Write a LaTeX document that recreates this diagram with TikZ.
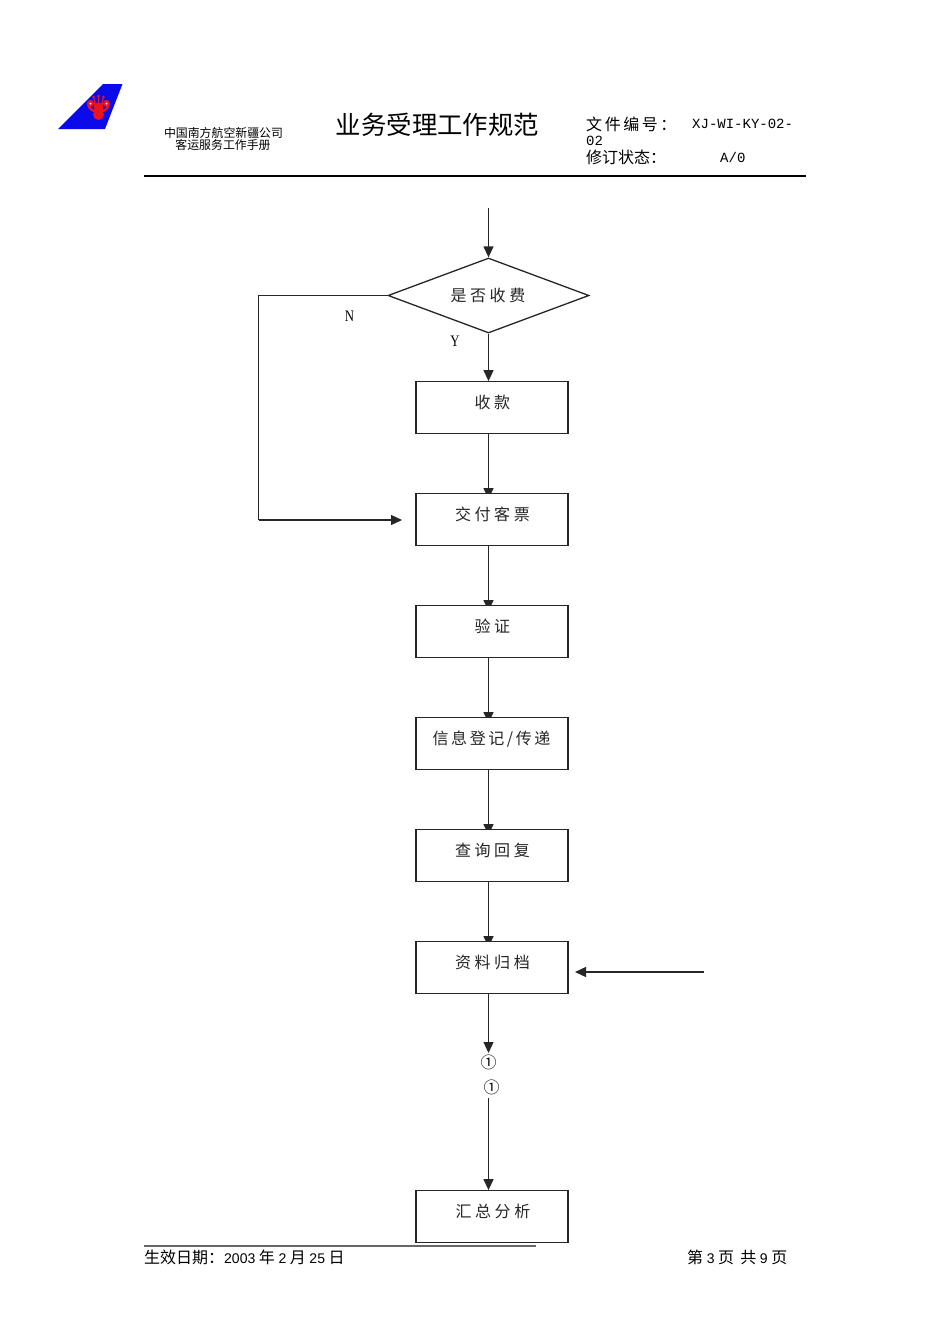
\documentclass[tikz,border=0pt]{standalone}
\usepackage{fontspec}
\usetikzlibrary{arrows.meta,shapes.geometric,backgrounds}
\setmainfont{Noto Sans CJK SC}
\newfontfamily\cjkw[LetterSpace=22]{Noto Sans CJK SC}
\newfontfamily\cjkh[LetterSpace=16]{Noto Sans CJK SC}
\newfontfamily\lat{Liberation Mono}
\newfontfamily\latn{Liberation Sans}
\newfontfamily\latserif{Liberation Serif}
\definecolor{tailblue}{RGB}{10,10,235}
\definecolor{flower}{RGB}{235,20,30}
\tikzset{
  stepbox/.style={draw=black!85,fill=white,line width=1.3pt,minimum width=152,minimum height=51.5,inner sep=0},
  choice/.style={diamond,draw=black!85,fill=white,line width=1.3pt,minimum width=201,minimum height=75,aspect=2.68,inner sep=0},
  flow/.style={draw=black!85,line width=1.3pt,-{Triangle[length=11pt,width=10pt]}},
  plain/.style={draw=black!85,line width=1.3pt},
  rulestyle/.style={draw=black,line width=1.2pt},
  lab/.style={inner sep=0,text=black!85,font=\fontsize{16}{16}\selectfont\cjkw},
  txt/.style={inner sep=0,anchor=west}
}
\begin{document}
\begin{tikzpicture}[x=1pt,y=-1pt]
\useasboundingbox (0,0) rectangle (950,1344);
% logo
\fill[tailblue] (103,84) -- (122.5,84) -- (105,129) -- (58,129) -- cycle;
\begin{scope}[flower]
\fill (98.5,114.5) circle (5.5);
\fill (94,103) rectangle (103,113);
\fill (90.5,103.5) circle (3.6) (106.5,103.5) circle (3.6);
\draw[line width=2.4pt,line cap=round] (94,111) .. controls (90,109) and (88.5,107.5) .. (88.5,104);
\draw[line width=2.4pt,line cap=round] (103,111) .. controls (107,109) and (108.5,107.5) .. (108.5,104);
\fill[white] (90.5,103.5) circle (1) (106.5,103.5) circle (1);
\draw[line width=1.2pt] (93.5,97) -- (95.5,105) (98.5,96) -- (98.5,105) (103.5,97) -- (101.5,105);
\fill (93.5,97) circle (1.4) (98.5,96) circle (1.4) (103.5,97) circle (1.4);
\end{scope}
% header
\node[inner sep=0,font=\fontsize{11.9}{12}\selectfont] (company) at (223.5,132.5) {中国南方航空新疆公司};
\node[inner sep=0,font=\fontsize{11.9}{12}\selectfont] (manual) at (223,144.5) {客运服务工作手册};
\node[inner sep=0,font=\fontsize{25.4}{25}\selectfont] (title) at (437.5,125) {业务受理工作规范};
\node[txt,font=\fontsize{16}{16}\selectfont\cjkh] (docno) at (586,124) {文件编号：};
\node[txt,font=\fontsize{14}{14}\selectfont\lat] (docval) at (692,124) {XJ-WI-KY-02-};
\node[txt,font=\fontsize{14}{14}\selectfont\lat] (docval2) at (586,141) {02};
\node[txt,font=\fontsize{16}{16}\selectfont] (rev) at (586,157) {修订状态：};
\node[txt,font=\fontsize{14}{14}\selectfont\lat] (revval) at (720,157) {A/0};
\coordinate (hl) at (144,176);
\coordinate (hr) at (806,176);
\draw[rulestyle] (hl) -- (hr);
% nodes
\node[choice] (d) at (488.5,295.5) {};
\node[lab] (dl) at (488,295) {是否收费};
\node[stepbox] (b1) at (492,407.5) {};
\node[lab] (l1) at (492.5,402) {收款};
\node[stepbox] (b2) at (492,519.5) {};
\node[lab] (l2) at (492.5,514) {交付客票};
\node[stepbox] (b3) at (492,631.5) {};
\node[lab] (l3) at (492.5,626) {验证};
\node[stepbox] (b4) at (492,743.5) {};
\node[lab,font=\fontsize{16}{16}\selectfont\cjkh] (l4) at (491.5,739) {信息登记/传递};
\node[stepbox] (b5) at (492,855.5) {};
\node[lab] (l5) at (492.5,850) {查询回复};
\node[stepbox] (b6) at (492,967.5) {};
\node[lab] (l6) at (492.5,962) {资料归档};
\node[stepbox] (b7) at (492,1216.5) {};
\node[lab] (l7) at (493,1211) {汇总分析};
\node[inner sep=0,font=\fontsize{16}{16}\selectfont] (c1) at (488.5,1062.5) {①};
\node[inner sep=0,font=\fontsize{16}{16}\selectfont] (c2) at (491.5,1087.5) {①};
\node[inner sep=0,font=\fontsize{16}{16}\selectfont\latserif,xscale=.8] (n) at (349.5,316) {N};
\node[inner sep=0,font=\fontsize{16}{16}\selectfont\latserif,xscale=.8] (y) at (455,341) {Y};
\coordinate (start) at (488.5,208);
\coordinate (nc) at (258.5,295.5);
\coordinate (nd) at (258.5,520);
\coordinate (ne) at (402,520);
\coordinate (rs) at (704,972);
\coordinate (re) at (575,972);
\begin{scope}[on background layer]
\draw[flow] (start) -- (d.north);
\draw[plain] (d.west) -- (nc) -- (nd);
\draw[flow] (nd) -- (ne);
\draw[flow] (d.south) -- ([xshift=-3.5]b1.north);
\draw[flow] ([xshift=-3.5]b1.south) -- ([xshift=-3.5,yshift=-6]b2.north);
\draw[flow] ([xshift=-3.5]b2.south) -- ([xshift=-3.5,yshift=-6]b3.north);
\draw[flow] ([xshift=-3.5]b3.south) -- ([xshift=-3.5,yshift=-6]b4.north);
\draw[flow] ([xshift=-3.5]b4.south) -- ([xshift=-3.5,yshift=-6]b5.north);
\draw[flow] ([xshift=-3.5]b5.south) -- ([xshift=-3.5,yshift=-6]b6.north);
\draw[flow] (rs) -- (re);
\draw[flow] ([xshift=-3.5]b6.south) -- ([yshift=9.5]c1.center);
\draw[flow] ([xshift=-3,yshift=-10.5]c2.center) -- ([xshift=-3.5]b7.north);
\end{scope}
% footer
\coordinate (fl) at (144,1246);
\coordinate (fr) at (536,1246);
\draw[draw=black!60,line width=1.6pt] (fl) -- (fr);
\node[txt,font=\fontsize{16}{16}\selectfont] (date) at (144,1257) {生效日期：{\latn\fontsize{14}{14}\selectfont 2003} 年 {\latn\fontsize{14}{14}\selectfont 2} 月 {\latn\fontsize{14}{14}\selectfont 25} 日};
\node[txt,font=\fontsize{16}{16}\selectfont] (page) at (687,1257) {第 {\latn\fontsize{14}{14}\selectfont 3} 页 \,共 {\latn\fontsize{14}{14}\selectfont 9} 页};
\end{tikzpicture}
\end{document}
